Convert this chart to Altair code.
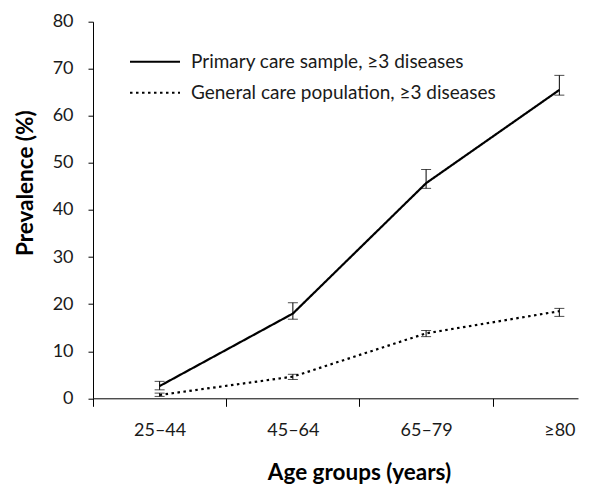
import altair as alt
import pandas as pd

age_groups = ["25–44", "45–64", "65–79", "≥80"]
series_names = ["Primary care sample, ≥3 diseases", "General care population, ≥3 diseases"]

primary = [2.6, 18.0, 45.7, 65.5]
primary_lo = [1.8, 16.8, 44.6, 64.4]
primary_hi = [3.6, 20.3, 48.6, 68.6]

general = [0.7, 4.6, 13.8, 18.5]
general_lo = [0.4, 4.0, 13.1, 17.4]
general_hi = [1.1, 5.1, 14.4, 19.1]

y_ticks = [0, 10, 20, 30, 40, 50, 60, 70, 80]

rows = []
for s, vals, lo, hi in [
    (series_names[0], primary, primary_lo, primary_hi),
    (series_names[1], general, general_lo, general_hi),
]:
    for i, g in enumerate(age_groups):
        rows.append({"series": s, "group": g, "pos": i + 0.5,
                     "value": vals[i], "lo": lo[i], "hi": hi[i]})
df = pd.DataFrame(rows)

FONT = "Lato"
TXT = "#1a1a1a"

label_expr = " : ".join(
    [f"datum.value == {i + 0.5} ? '{g}'" for i, g in enumerate(age_groups)]
) + " : ''"
x_values = sorted([float(i) for i in range(len(age_groups))] + [i + 0.5 for i in range(len(age_groups))])

x_enc = alt.X(
    "pos:Q",
    scale=alt.Scale(domain=[0, 3.64], nice=False, zero=False),
    axis=alt.Axis(
        values=x_values,
        labelExpr=label_expr,
        tickOpacity={"expr": "datum.value % 1 == 0 ? 1 : 0"},
        tickSize=8,
        tickColor="black",
        domainColor="black",
        grid=False,
        labelFont=FONT,
        labelFontSize=18,
        labelColor=TXT,
        labelPadding=15,
        labelFlush=False,
        labelOverlap=False,
        title="Age groups (years)",
        titleFont=FONT,
        titleFontSize=22.5,
        titleFontWeight="bold",
        titleColor="black",
        titleX=266,
        titleAnchor="middle",
        titlePadding=22,
    ),
)

y_enc = alt.Y(
    "value:Q",
    scale=alt.Scale(domain=[0, 80], nice=False),
    axis=alt.Axis(
        values=y_ticks,
        tickSize=5,
        tickColor="black",
        domainColor="black",
        grid=False,
        labelFont=FONT,
        labelFontSize=18,
        labelColor=TXT,
        labelPadding=15,
        title="Prevalence (%)",
        titleFont=FONT,
        titleFontSize=22.5,
        titleFontWeight="bold",
        titleColor="black",
        titleX=-56,
        titleY=161,
        titleAnchor="middle",
    ),
)

lines = alt.Chart(df).mark_line(color="black", strokeWidth=2.2).encode(
    x=x_enc,
    y=y_enc,
    strokeDash=alt.StrokeDash(
        "series:N",
        scale=alt.Scale(domain=series_names, range=[[1, 0], [2.5, 3.5]]),
        legend=alt.Legend(
            orient="none",
            legendX=36,
            legendY=24.5,
            title=None,
            padding=0,
            symbolType="stroke",
            symbolSize=2500,
            symbolStrokeWidth=2,
            symbolStrokeColor="black",
            labelFont=FONT,
            labelFontSize=19,
            labelColor=TXT,
            labelOffset=10,
            labelLimit=400,
            clipHeight=31,
            rowPadding=0,
        ),
    ),
    detail="series:N",
)

stems = alt.Chart(df).mark_rule(color="black", strokeWidth=1).encode(
    x="pos:Q", y="lo:Q", y2="hi:Q"
)
caps_hi = alt.Chart(df).mark_tick(color="black", orient="horizontal", size=10, thickness=1).encode(
    x="pos:Q", y="hi:Q"
)
caps_lo = alt.Chart(df).mark_tick(color="black", orient="horizontal", size=10, thickness=1).encode(
    x="pos:Q", y="lo:Q"
)

chart = (
    alt.layer(lines, stems, caps_hi, caps_lo)
    .properties(
        width=485,
        height=376.6,
        autosize=alt.AutoSizeParams(type="none"),
        padding={"left": 85, "top": 13.7, "right": 2, "bottom": 88},
        background="white",
    )
    .configure_view(stroke=None)
)

chart.save("out.html", embed_options={"renderer": "svg", "actions": False})
